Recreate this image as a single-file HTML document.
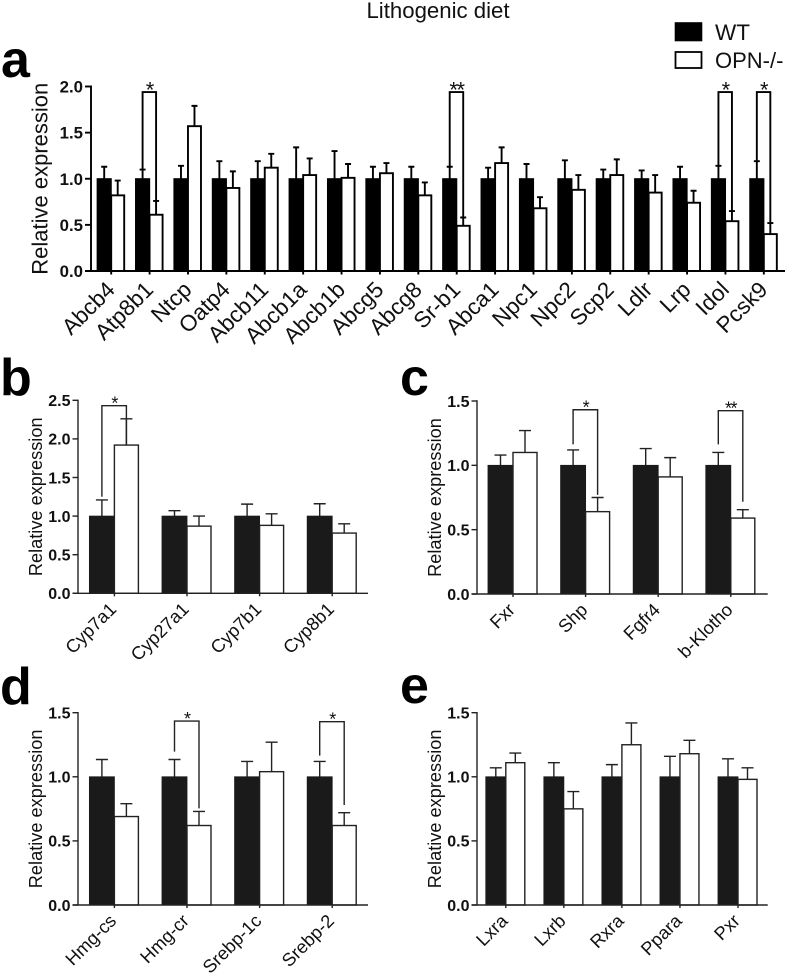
<!DOCTYPE html>
<html lang="en">
<head>
<meta charset="utf-8">
<title>Lithogenic diet</title>
<style>
html,body{margin:0;padding:0;background:#fff}
svg{display:block}
text{font-family:"Liberation Sans",Arial,sans-serif}
</style>
</head>
<body>
<svg id="figure" xmlns="http://www.w3.org/2000/svg" width="787" height="975" viewBox="0 0 787 975">
  <rect width="787" height="975" fill="#fff"/>
  <text x="438" y="18" font-size="22.2" text-anchor="middle" fill="#111">Lithogenic diet</text>
  <g>
    <rect x="675.5" y="23" width="26" height="17.5" fill="#000" stroke="#000" stroke-width="1.6"/>
    <text x="715" y="40" font-size="22.5" fill="#111">WT</text>
    <rect x="675.5" y="52" width="26" height="16" fill="#fff" stroke="#000" stroke-width="1.8"/>
    <text x="715" y="68" font-size="22" fill="#111">OPN-/-</text>
  </g>
  <text x="1" y="77" font-size="52" font-weight="bold" fill="#000">a</text>
  <text x="0" y="395" font-size="52" font-weight="bold" fill="#000">b</text>
  <text x="400" y="395" font-size="52" font-weight="bold" fill="#000">c</text>
  <text x="0" y="704" font-size="52" font-weight="bold" fill="#000">d</text>
  <text x="400" y="703" font-size="52" font-weight="bold" fill="#000">e</text>
</svg>
<script>
// Panel a
const aCategories = ['Abcb4','Atp8b1','Ntcp','Oatp4','Abcb11','Abcb1a','Abcb1b','Abcg5','Abcg8','Sr-b1','Abca1','Npc1','Npc2','Scp2','Ldlr','Lrp','Idol','Pcsk9'];
const aWt = [1,1,1,1,1,1,1,1,1,1,1,1,1,1,1,1,1,1];
const aWtErrTop = [1.13,1.10,1.14,1.19,1.19,1.34,1.30,1.13,1.13,1.13,1.12,1.16,1.20,1.10,1.09,1.13,1.14,1.19];
const aOpn = [0.82,0.61,1.57,0.90,1.12,1.04,1.01,1.06,0.82,0.49,1.17,0.68,0.88,1.04,0.85,0.74,0.54,0.40];
const aOpnErrTop = [0.98,0.76,1.79,1.08,1.27,1.22,1.16,1.17,0.96,0.58,1.34,0.80,1.04,1.21,1.04,0.87,0.65,0.52];
const aTicks = [0,0.5,1,1.5,2];
const aSigCategory = [1,9,16,17];
const aSigLabel = ['*','**','*','*'];
const aSigTop = [1.94,1.94,1.94,1.94];
const aSigLeftEnd = [1.10,1.13,1.14,1.19];
const aSigRightEnd = [0.76,0.58,0.65,0.52];
// Panel b
const bCategories = ['Cyp7a1','Cyp27a1','Cyp7b1','Cyp8b1'];
const bWt = [1,1,1,1];
const bWtErrTop = [1.21,1.07,1.155,1.16];
const bOpn = [1.92,0.87,0.88,0.78];
const bOpnErrTop = [2.26,1.00,1.03,0.90];
const bTicks = [0,0.5,1,1.5,2,2.5];
const bSigCategory = [0];
const bSigLabel = ['*'];
const bSigTop = [2.43];
const bSigLeftEnd = [1.25];
const bSigRightEnd = [1.92];
// Panel c
const cCategories = ['Fxr','Shp','Fgfr4','b-Klotho'];
const cWt = [1,1,1,1];
const cWtErrTop = [1.08,1.12,1.13,1.10];
const cOpn = [1.10,0.64,0.91,0.59];
const cOpnErrTop = [1.27,0.75,1.06,0.655];
const cTicks = [0,0.5,1,1.5];
const cSigCategory = [1,3];
const cSigLabel = ['*','**'];
const cSigTop = [1.432,1.425];
const cSigLeftEnd = [1.163,1.163];
const cSigRightEnd = [0.77,0.717];
// Panel d
const dCategories = ['Hmg-cs','Hmg-cr','Srebp-1c','Srebp-2'];
const dWt = [1,1,1,1];
const dWtErrTop = [1.135,1.135,1.12,1.12];
const dOpn = [0.69,0.62,1.04,0.62];
const dOpnErrTop = [0.79,0.73,1.27,0.72];
const dTicks = [0,0.5,1,1.5];
const dSigCategory = [1,3];
const dSigLabel = ['*','*'];
const dSigTop = [1.435,1.43];
const dSigLeftEnd = [1.196,1.165];
const dSigRightEnd = [0.754,0.78];
// Panel e
const eCategories = ['Lxra','Lxrb','Rxra','Ppara','Pxr'];
const eWt = [1,1,1,1,1];
const eWtErrTop = [1.07,1.11,1.095,1.16,1.14];
const eOpn = [1.11,0.75,1.25,1.18,0.98];
const eOpnErrTop = [1.185,0.885,1.42,1.285,1.07];
const eTicks = [0,0.5,1,1.5];
const eSigCategory = [];
const eSigLabel = [];
const eSigTop = [];
const eSigLeftEnd = [];
const eSigRightEnd = [];

const NS = 'http://www.w3.org/2000/svg';
const root = document.getElementById('figure');

function make(tag, attrs, parent) {
  const node = document.createElementNS(NS, tag);
  for (const key in attrs) node.setAttribute(key, attrs[key]);
  parent.appendChild(node);
  return node;
}

function drawPanel(p) {
  const group = make('g', {}, root);
  
  

  const yMax = p.ticks[p.ticks.length - 1];
  const yScale = v => p.y0 - (v / yMax) * (p.y0 - p.yTop);
  const xScale = i => p.firstTick + i * p.step;
  const sw = p.stroke;

  // Bars and error bars
  p.categories.forEach((cat, i) => {
    const cx = xScale(i);
    const slug = cat.toLowerCase();

    const wtErrX = cx - p.blackW / 2;
    const wtErr = make('path', {
      d: 'M' + wtErrX + ' ' + yScale(p.wt[i]) + 'V' + yScale(p.wtErr[i]) +
         'M' + (wtErrX - p.cap) + ' ' + yScale(p.wtErr[i]) + 'H' + (wtErrX + p.cap),
      fill: 'none', stroke: p.ink, 'stroke-width': sw
    }, group);
    
    

    const opnErrX = cx + p.whiteW / 2;
    const opnErr = make('path', {
      d: 'M' + opnErrX + ' ' + yScale(p.opn[i]) + 'V' + yScale(p.opnErr[i]) +
         'M' + (opnErrX - p.cap) + ' ' + yScale(p.opnErr[i]) + 'H' + (opnErrX + p.cap),
      fill: 'none', stroke: p.ink, 'stroke-width': sw
    }, group);
    
    

    const wtBar = make('rect', {
      x: cx - p.blackW, y: yScale(p.wt[i]),
      width: p.blackW, height: p.y0 - yScale(p.wt[i]),
      fill: p.fill, stroke: p.fill, 'stroke-width': sw * 0.6
    }, group);
    
    

    const opnBar = make('rect', {
      x: cx, y: yScale(p.opn[i]),
      width: p.whiteW, height: p.y0 - yScale(p.opn[i]),
      fill: '#fff', stroke: p.ink, 'stroke-width': sw
    }, group);
    
    

    const tick = make('line', {
      x1: cx, x2: cx, y1: p.y0, y2: p.y0 + p.xTickLen,
      stroke: p.ink, 'stroke-width': sw
    }, group);
    
    

    const lx = cx + p.labelDx;
    const ly = p.y0 + p.labelDy;
    const label = make('text', {
      x: lx, y: ly, 'font-size': p.xFont, 'text-anchor': 'end', fill: '#111',
      transform: 'rotate(-45 ' + lx + ' ' + ly + ')'
    }, group);
    label.textContent = cat;
    
    
  });

  // Axes
  const yAxis = make('line', {
    x1: p.axisX, x2: p.axisX, y1: p.yTop - sw / 2, y2: p.y0,
    stroke: p.ink, 'stroke-width': sw
  }, group);
  
  

  const xAxis = make('line', {
    x1: p.axisX - p.yTickLen, x2: p.axisEnd, y1: p.y0, y2: p.y0,
    stroke: p.ink, 'stroke-width': sw
  }, group);
  
  

  p.ticks.forEach(t => {
    const y = yScale(t);
    const tick = make('line', {
      x1: p.axisX - p.yTickLen, x2: p.axisX, y1: y, y2: y,
      stroke: p.ink, 'stroke-width': sw
    }, group);
    
    

    const label = make('text', {
      x: p.axisX - p.yTickLen - 2, y: y + p.yFont * 0.36,
      'font-size': p.yFont, 'font-weight': 'bold', 'text-anchor': 'end', fill: '#111'
    }, group);
    label.textContent = t.toFixed(1);
    
    
  });

  const titleY = (p.y0 + p.yTop) / 2 + p.titleShift;
  const title = make('text', {
    x: p.titleX, y: titleY, 'font-size': p.titleFont, 'text-anchor': 'middle', fill: '#111',
    transform: 'rotate(-90 ' + p.titleX + ' ' + titleY + ')'
  }, group);
  title.textContent = 'Relative expression';
  
  

  // Significance brackets
  p.sigCategory.forEach((catIndex, k) => {
    const cx = xScale(catIndex);
    const lx = cx - p.blackW / 2;
    const rx = cx + p.whiteW / 2;
    const top = yScale(p.sigTop[k]);
    const bracket = make('path', {
      d: 'M' + lx + ' ' + yScale(p.sigLeft[k]) + 'V' + top + 'H' + rx + 'V' + yScale(p.sigRight[k]),
      fill: 'none', stroke: p.ink, 'stroke-width': sw
    }, group);
    
    

    const star = make('text', {
      x: (lx + rx) / 2, y: top + p.starDy, 'font-size': p.starFont,
      'text-anchor': 'middle', 'letter-spacing': '-1.5', fill: '#111'
    }, group);
    star.textContent = p.sigLabel[k];
    
    
  });
}

const smallStyle = {
  blackW: 25, whiteW: 24, cap: 6, stroke: 1.4, ink: '#222', fill: '#1a1a1a',
  xTickLen: 3, yTickLen: 5.5, xFont: 18.3, yFont: 16, titleFont: 18.2,
  labelDx: 3, labelDy: 17, starFont: 18, starDy: 4, step: 72.6, titleShift: 0
};

drawPanel({
  id: 'a', categories: aCategories, wt: aWt, wtErr: aWtErrTop, opn: aOpn, opnErr: aOpnErrTop,
  ticks: aTicks, sigCategory: aSigCategory, sigLabel: aSigLabel, sigTop: aSigTop, sigLeft: aSigLeftEnd, sigRight: aSigRightEnd,
  axisX: 91, axisEnd: 785, y0: 271, yTop: 86.5, firstTick: 111.2, step: 38.39,
  blackW: 14, whiteW: 13, cap: 3, stroke: 1.9, ink: '#000', fill: '#000',
  xTickLen: 3.5, yTickLen: 6, xFont: 22.5, yFont: 16.8, titleFont: 22, titleX: 47.5, titleShift: 0,
  labelDx: 5, labelDy: 20, starFont: 22, starDy: 5.3
});

drawPanel(Object.assign({}, smallStyle, {
  id: 'b', categories: bCategories, wt: bWt, wtErr: bWtErrTop, opn: bOpn, opnErr: bOpnErrTop,
  ticks: bTicks, sigCategory: bSigCategory, sigLabel: bSigLabel, sigTop: bSigTop, sigLeft: bSigLeftEnd, sigRight: bSigRightEnd,
  axisX: 78, axisEnd: 368, y0: 593.3, yTop: 400.3, firstTick: 114.4, titleX: 42
}));

drawPanel(Object.assign({}, smallStyle, {
  id: 'c', categories: cCategories, wt: cWt, wtErr: cWtErrTop, opn: cOpn, opnErr: cOpnErrTop,
  ticks: cTicks, sigCategory: cSigCategory, sigLabel: cSigLabel, sigTop: cSigTop, sigLeft: cSigLeftEnd, sigRight: cSigRightEnd,
  axisX: 477, axisEnd: 767.7, y0: 594, yTop: 401, firstTick: 513, titleX: 441
}));

drawPanel(Object.assign({}, smallStyle, {
  id: 'd', categories: dCategories, wt: dWt, wtErr: dWtErrTop, opn: dOpn, opnErr: dOpnErrTop,
  ticks: dTicks, sigCategory: dSigCategory, sigLabel: dSigLabel, sigTop: dSigTop, sigLeft: dSigLeftEnd, sigRight: dSigRightEnd,
  axisX: 78, axisEnd: 368, y0: 905, yTop: 712.7, firstTick: 114.4, titleX: 42
}));

drawPanel(Object.assign({}, smallStyle, {
  id: 'e', categories: eCategories, wt: eWt, wtErr: eWtErrTop, opn: eOpn, opnErr: eOpnErrTop,
  ticks: eTicks, sigCategory: eSigCategory, sigLabel: eSigLabel, sigTop: eSigTop, sigLeft: eSigLeftEnd, sigRight: eSigRightEnd,
  axisX: 477, axisEnd: 767.7, y0: 905, yTop: 712.7, firstTick: 505.8, step: 58.05,
  blackW: 20, whiteW: 19, titleX: 441
}));
</script>
</body>
</html>
